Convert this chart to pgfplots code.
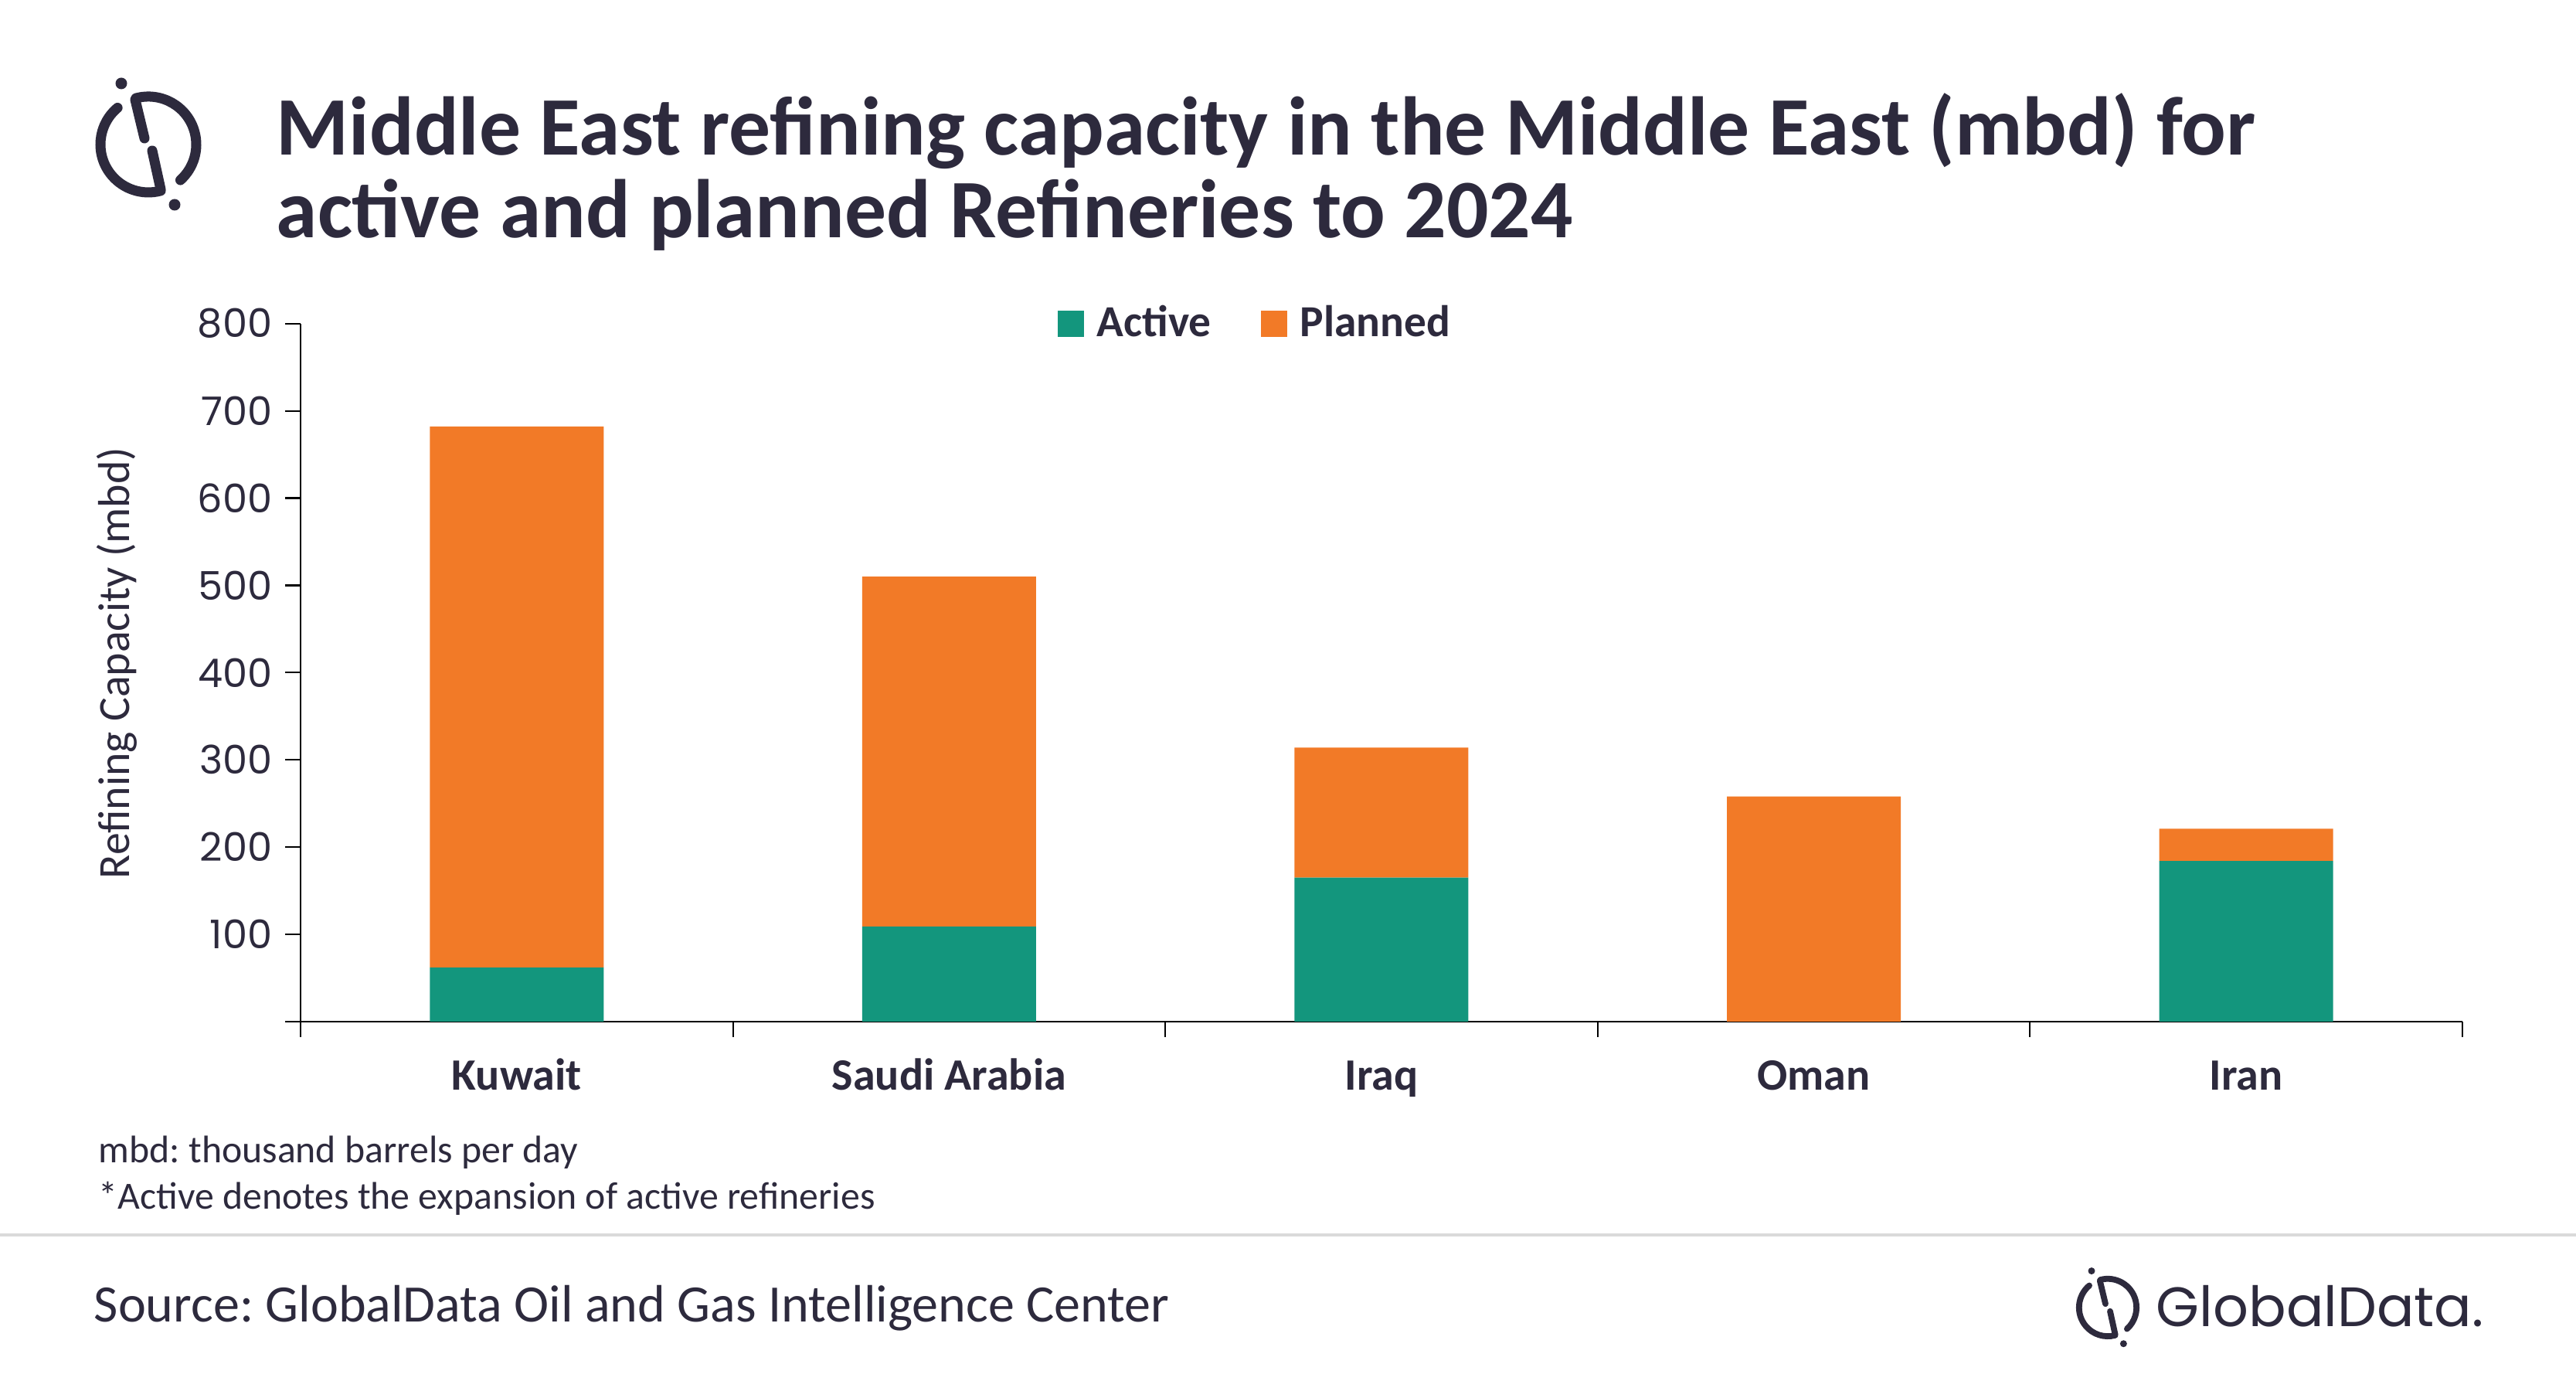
\documentclass[border=0pt]{standalone}
\usepackage{pgfplots}
\pgfplotsset{compat=1.18}
\usepackage{fontspec}
\setmainfont{Carlito}
\newfontfamily\poppins{Poppins}
\frenchspacing
\definecolor{txt}{HTML}{2D2A3D}
\definecolor{act}{HTML}{13967D}
\definecolor{pln}{HTML}{F27A27}
\definecolor{sep}{HTML}{DADADA}
\newcommand{\gdlogo}[1]{%
  \draw[line width=#1, line cap=round, txt] (105:62) arc[start angle=105, end angle=-48, radius=62];
  \draw[line width=#1, line cap=round, txt] (130:62) arc[start angle=130, end angle=285, radius=62];
  \draw[line width=#1, line cap=round, txt] (-17,58) -- (-5,8);
  \draw[line width=#1, line cap=round, txt] (5,-8) -- (16,-58);
  \fill[txt] (-35,79) circle[radius=7.5];
  \fill[txt] (34,-78) circle[radius=7.5];
}
\begin{document}
\begin{tikzpicture}
\path[use as bounding box, fill=white] (0,0) rectangle (784pt,420.21pt);
\begin{axis}[
  at={(91.47pt,109.35pt)}, anchor=south west,
  scale only axis, width=657.95pt, height=212.4pt,
  xmin=-0.5, xmax=4.5, ymin=0, ymax=800,
  ybar stacked, bar width=52.9pt,
  axis x line*=bottom, axis y line*=left,
  axis line style={-, black, line width=0.6pt},
  tick align=outside, major tick length=4.6pt,
  tick style={black, line width=0.5pt},
  xtick={-0.5,0.5,1.5,2.5,3.5,4.5}, xticklabels={},
  extra x ticks={0,1,2,3,4},
  extra x tick labels={Kuwait,Saudi Arabia,Iraq,Oman,Iran},
  extra x tick style={major tick length=0pt, tick style={draw=none}},
  xticklabel style={font=\bfseries\fontsize{13.65}{16}\selectfont, text=txt, anchor=base, yshift=-20.9pt},
  ytick={0,100,...,800},
  yticklabels={{},100,200,300,400,500,600,700,800},
  yticklabel style={font=\poppins\fontsize{12}{15}\selectfont, text=txt, xshift=-0.5pt},
  /pgf/number format/assume math mode=true,
  legend columns=2,
  legend style={at={(0.4425,1.0)}, anchor=center, draw=none, fill=none,
    font=\bfseries\fontsize{13.5}{16}\selectfont, text=txt,
    /tikz/every even column/.append style={column sep=13pt}},
]
\addplot[fill=act, draw=none, legend image code/.code={\fill[act] (0pt,-4pt) rectangle (8pt,4pt); \path (10pt,0pt);}]
  coordinates {(0,62) (1,109) (2,165) (3,0) (4,184)};
\addlegendentry{Active}
\addplot[fill=pln, draw=none, legend image code/.code={\fill[pln] (0pt,-4pt) rectangle (8pt,4pt); \path (10pt,0pt);}]
  coordinates {(0,620) (1,401) (2,149) (3,258) (4,37)};
\addlegendentry{Planned}
\end{axis}
\begin{scope}[x=0.23515pt, y=-0.23515pt, shift={(0pt,420.21pt)}]
  \node[anchor=base west, inner sep=0, text=txt, font=\bfseries\fontsize{25.3}{28}\selectfont] at (357,201) {Middle East refining capacity in the Middle East (mbd) for};
  \node[anchor=base west, inner sep=0, text=txt, font=\bfseries\fontsize{25.3}{28}\selectfont] at (357,308) {active and planned Refineries to 2024};
  \node[rotate=90, inner sep=0, text=txt, font=\fontsize{13.6}{16}\selectfont] at (151,858) {Refining Capacity (mbd)};
  \node[anchor=base west, inner sep=0, text=txt, font=\fontsize{11.7}{14}\selectfont] at (127,1505) {mbd: thousand barrels per day};
  \node[anchor=base west, inner sep=0, text=txt, font=\fontsize{11.7}{14}\selectfont] at (127,1565) {*Active denotes the expansion of active refineries};
  \draw[sep, line width=1pt] (0,1598) -- (3334,1598);
  \node[anchor=base west, inner sep=0, text=txt, font=\fontsize{16}{19}\selectfont] at (121,1710) {Source: GlobalData Oil and Gas Intelligence Center};
  \node[anchor=base west, inner sep=0, text=txt, font=\poppins\fontsize{16.9}{20}\selectfont] at (2790,1716) {GlobalData.};
\end{scope}
\begin{scope}[x=0.23515pt, y=0.23515pt, shift={(45.15pt,376.24pt)}]
  \gdlogo{3.06pt}
\end{scope}
\begin{scope}[x=0.141pt, y=0.141pt, shift={(641.49pt,22.34pt)}]
  \gdlogo{1.83pt}
\end{scope}
\end{tikzpicture}
\end{document}
